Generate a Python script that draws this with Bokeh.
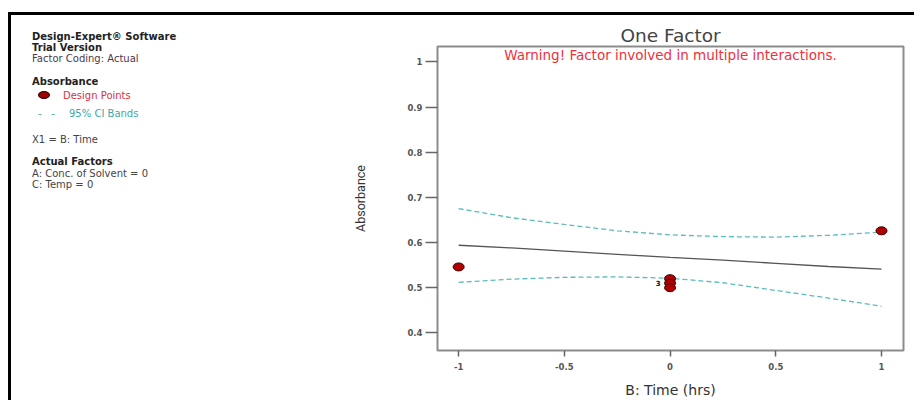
from bokeh.plotting import figure
from bokeh.layouts import row
from bokeh.models import FixedTicker, Label, Div
from bokeh.embed import file_html
from bokeh.resources import INLINE

# ---- data ----
pts_x = [-1, 0, 0, 0, 1]
pts_y = [0.546, 0.520, 0.510, 0.500, 0.626]

curve_x = [-1, -0.75, -0.5, -0.25, 0, 0.25, 0.5, 0.75, 1]
fit_y   = [0.594, 0.588, 0.581, 0.574, 0.567, 0.561, 0.554, 0.547, 0.541]
ci_hi   = [0.675, 0.655, 0.640, 0.626, 0.617, 0.613, 0.612, 0.616, 0.623]
ci_lo   = [0.512, 0.519, 0.523, 0.524, 0.521, 0.511, 0.494, 0.477, 0.459]

x_ticks = [-1, -0.5, 0, 0.5, 1]
x_tick_labels = ["-1", "-0.5", "0", "0.5", "1"]
y_ticks = [0.4, 0.5, 0.6, 0.7, 0.8, 0.9, 1.0]
y_tick_labels = ["0.4", "0.5", "0.6", "0.7", "0.8", "0.9", "1"]

legend_lines = [
    ("Design-Expert® Software", "bold", "#222222", 32, 36),
    ("Trial Version", "bold", "#222222", 32, 47),
    ("Factor Coding: Actual", "normal", "#4a3a4a", 32, 58),
    ("Absorbance", "bold", "#222222", 32, 81),
    ("Design Points", "normal", "#e0303a", 63, 95),
    ("-&nbsp;&nbsp;&nbsp;-", "normal", "#3aa8a8", 38, 113),
    ("95% CI Bands", "normal", "#3aa8a8", 69, 113),
    ("X1 = B: Time", "normal", "#444444", 32, 139),
    ("Actual Factors", "bold", "#222222", 32, 161),
    ("A: Conc. of Solvent = 0", "normal", "#444444", 32, 173),
    ("C: Temp = 0", "normal", "#444444", 32, 184),
]

FONT = "DejaVu Sans"
LEFT_W, RIGHT_W, H = 330, 573, 385
X0, Y0 = 11, 15          # page position of the canvases
DIV_DY = 11.5            # measured vertical offset of the Div content

# ---------------- left info panel (HTML text) ----------------
LH = 10
parts = []
for text, style, color, px, py in legend_lines:
    parts.append(
        f'<div style="position:absolute; left:{px - X0}px; top:{py - Y0 - DIV_DY - LH / 2}px; '
        f'line-height:{LH}px; white-space:nowrap; font-family:\'{FONT}\'; font-size:10px; '
        f'font-weight:{style}; color:{color};">{text}</div>')
# legend swatch for design points
parts.append(
    f'<div style="position:absolute; left:{45 - X0 - 7}px; top:{95 - Y0 - DIV_DY - 5}px; width:12px; '
    f'height:8px; border-radius:50%; background:#a00000; border:1px solid #2a0000;"></div>')
info = Div(text='<div style="position:relative; width:100%; height:100%;">' + "".join(parts) + "</div>",
           width=LEFT_W, height=H, styles={"margin": "0", "padding": "0"})

# ---------------- main plot ----------------
FL, FB = 437, 353     # page position of frame left / bottom
p = figure(width=RIGHT_W, height=H, x_range=(-1.1, 1.104), y_range=(0.361, 1.034),
           output_backend="svg", toolbar_location=None,
           min_border_left=FL - (X0 + LEFT_W), min_border_right=11,
           min_border_top=31, min_border_bottom=47)
p.grid.visible = False
p.outline_line_color = "#8c8c8c"
p.outline_line_width = 2

p.title.text = "One Factor"
p.title.align = "center"
p.title.text_font = FONT
p.title.text_font_size = "18.5px"
p.title.text_font_style = "normal"
p.title.text_color = "#444444"
p.title.standoff = 1

for ax in (p.xaxis[0], p.yaxis[0]):
    ax.axis_line_color = None
    ax.minor_tick_line_color = None
    ax.major_tick_in = 0
    ax.major_tick_line_color = "#666666"
    ax.major_tick_line_width = 1.5
    ax.major_label_text_font = FONT
    ax.major_label_text_font_size = "8.5px"
    ax.major_label_text_font_style = "bold"
    ax.major_label_text_color = "#555555"

p.xaxis.ticker = FixedTicker(ticks=x_ticks)
p.xaxis.major_label_overrides = dict(zip(x_ticks, x_tick_labels))
p.xaxis.major_tick_out = 6
p.xaxis.major_label_standoff = 6
p.xaxis.axis_label = "B: Time (hrs)"
p.xaxis.axis_label_text_font = FONT
p.xaxis.axis_label_text_font_size = "14px"
p.xaxis.axis_label_text_font_style = "normal"
p.xaxis.axis_label_text_color = "#333333"
p.xaxis.axis_label_standoff = 9

p.yaxis.ticker = FixedTicker(ticks=y_ticks)
p.yaxis.major_label_overrides = dict(zip(y_ticks, y_tick_labels))
p.yaxis.major_tick_out = 12
p.yaxis.major_label_standoff = 3
p.yaxis.axis_label = "Absorbance"
p.yaxis.axis_label_text_font = "Roboto"
p.yaxis.axis_label_text_font_size = "12.5px"
p.yaxis.axis_label_text_font_style = "normal"
p.yaxis.axis_label_text_color = "#333333"
p.yaxis.axis_label_standoff = 36

# curves
p.line(curve_x, ci_hi, line_color="#5bbcbc", line_width=1.3, line_dash="5 3")
p.line(curve_x, ci_lo, line_color="#5bbcbc", line_width=1.3, line_dash="5 3")
p.line(curve_x, fit_y, line_color="#555555", line_width=1.3)

# design points
p.ellipse(pts_x, pts_y, width=11, height=8, width_units="screen", height_units="screen",
          fill_color="#b00000", line_color="#3a0000", line_width=1)
p.add_layout(Label(x=0, y=0.510, x_offset=-12, text="3", text_font=FONT,
                   text_font_size="7px", text_font_style="bold", text_color="#111111",
                   text_baseline="middle", text_align="center"))

p.add_layout(Label(x=670 - FL, y=FB - 57, x_units="screen", y_units="screen",
                   text="Warning! Factor involved in multiple interactions.",
                   text_font=FONT, text_font_size="13.5px", text_color="#f0303c",
                   text_align="center", text_baseline="middle"))

layout = row(info, p, styles={"margin-left": "8px", "margin-top": "12px",
                              "border-left": "3px solid black",
                              "border-top": "3px solid black"})

open("out.html", "w").write(file_html(layout, INLINE))
